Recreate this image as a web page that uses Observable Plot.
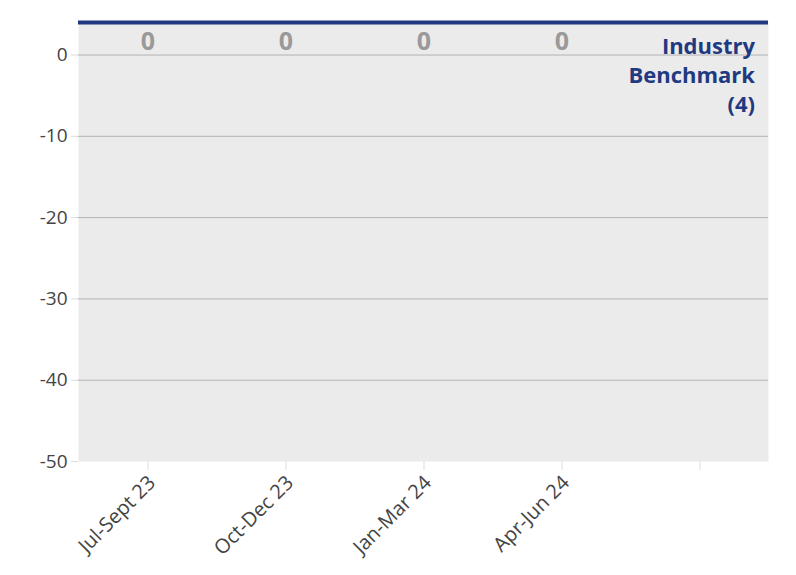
<!DOCTYPE html>
<html>
<head>
<meta charset="utf-8">
<script src="https://cdn.jsdelivr.net/npm/d3@7"></script>
<script src="https://cdn.jsdelivr.net/npm/@observablehq/plot@0.6"></script>
<style>
  html, body { margin: 0; padding: 0; background: #fff; }
  #chart { width: 796px; height: 575px; }
</style>
</head>
<body>
<div id="chart"></div>
<script>
const categories = ["Jul-Sept 23", "Oct-Dec 23", "Jan-Mar 24", "Apr-Jun 24", " "];
const periods = ["Jul-Sept 23", "Oct-Dec 23", "Jan-Mar 24", "Apr-Jun 24"];
const values = [0, 0, 0, 0];
const benchmark = 4;
const benchmarkLabel = "Industry\nBenchmark\n(4)";
const yTicks = [0, -10, -20, -30, -40, -50];

const data = periods.map((p, i) => ({period: p, value: values[i]}));

const chart = Plot.plot({
  width: 796,
  height: 575,
  marginLeft: 78,
  marginRight: 28,
  marginTop: 22,
  marginBottom: 114,
  style: {fontFamily: "'Open Sans', 'Noto Sans', sans-serif", fontSize: "19px", color: "#444", background: "#fff"},
  x: {domain: categories, label: null, paddingInner: 0.3, paddingOuter: 0.15},
  y: {domain: [-50, benchmark], label: null},
  marks: [
    Plot.frame({fill: "#ebebeb", stroke: null}),
    Plot.gridY(yTicks.filter(d => d !== -50), {stroke: "#b3b3b3", strokeOpacity: 1, strokeWidth: 1}),
    Plot.axisY({ticks: yTicks, tickFormat: d => String(d), tickSize: 7, tickPadding: 4, stroke: "#ddd", fill: "#444", fontSize: 19, label: null}),
    Plot.axisX({tickSize: 9, tickFormat: () => "", stroke: "#ddd", label: null}),
    Plot.axisX({tickRotate: -45, tickSize: 0, tickPadding: 6, dx: 4, dy: 12, stroke: "none", fill: "#444", fontSize: 20, label: null}),
    Plot.barY(data, {x: "period", y: "value", fill: "#999"}),
    Plot.ruleY([benchmark], {stroke: "#1f3a80", strokeWidth: 4}),
    Plot.text(data, {x: "period", y: "value", text: d => String(d.value), dy: -13, fill: "#999", fontSize: 25, fontWeight: "bold"}),
    Plot.text([benchmark], {x: () => " ", y: d => d, text: () => benchmarkLabel, dx: 55, dy: 11, textAnchor: "end", lineAnchor: "top", lineHeight: 1.32, fill: "#1f3a80", fontSize: 22, fontWeight: "bold"})
  ]
});
document.getElementById("chart").appendChild(chart);
</script>
</body>
</html>
